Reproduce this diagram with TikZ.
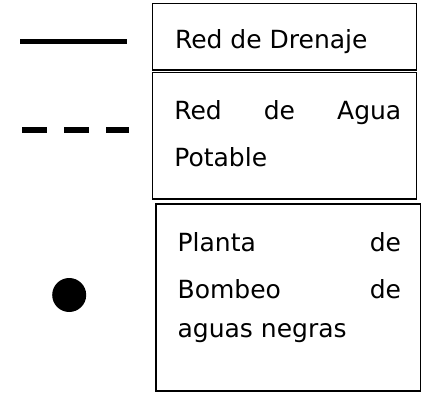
\documentclass[tikz,border=0pt]{standalone}
\usepackage{fontspec}
\setmainfont{DejaVu Sans}
\usetikzlibrary{positioning}

\begin{document}
\begin{tikzpicture}[x=1pt, y=1pt,
legbox/.style={draw, line width=1.4pt, inner sep=0pt, outer sep=0pt, minimum width=264.2pt},
legtext/.style={inner sep=0pt, outer sep=0pt, align=justify, font=\fontsize{25}{47}\selectfont},
drenline/.style={line width=4.5pt},
agualine/.style={line width=6pt, dash pattern=on 24.5pt off 17.5pt},
pumpdot/.style={circle, fill, inner sep=0pt, minimum size=34pt}
]
\useasboundingbox (0,0) rectangle (423,392);
% boxes of the legend
\node[legbox, minimum height=66.7pt, anchor=north west] (drenbox) at (152.5,388.7) {};
\node[legbox, minimum height=126.5pt, below right=2.5pt and 0pt of drenbox.south west] (aguabox) {};
\node[legbox, minimum width=264.7pt, minimum height=187pt, below right=5pt and 3.5pt of aguabox.south west] (bombabox) {};
\node[legtext, text width=200pt, below right=26pt and 22.5pt of drenbox.north west] (drentext) {Red de Drenaje};
\node[legtext, text width=227pt, below right=28.2pt and 21.8pt of aguabox.north west] (aguatext) {Red\hfill de\hfill Agua\\Potable};
\node[legtext, text width=223.5pt, below right=28.9pt and 21.6pt of bombabox.north west] (bombatext) {Planta\hfill de\\Bombeo\hfill de\\[-8pt]aguas negras};
% symbols
\coordinate (drenA) at (20,350.3);
\coordinate (drenB) at (127,350.3);
\coordinate (aguaA) at (22,261.7);
\coordinate (aguaB) at (129.3,261.7);
\draw[drenline] (drenA) -- (drenB);
\draw[agualine] (aguaA) -- (aguaB);
\node[pumpdot] (pump) at (69.2,97) {};
\end{tikzpicture}
\end{document}
